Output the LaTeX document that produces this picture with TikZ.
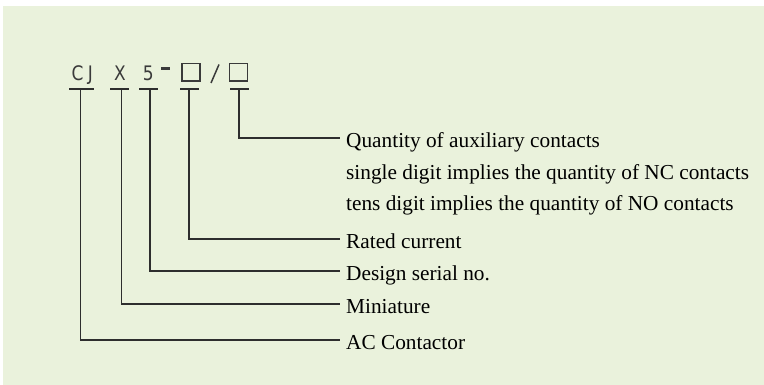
\documentclass[tikz,border=0pt]{standalone}
\usepackage{fontspec}
\setmainfont{Liberation Serif}
\newfontfamily\codefont{DejaVu Sans}
\definecolor{bgc}{HTML}{EAF2DC}
\definecolor{inkc}{HTML}{2E2E2E}
\definecolor{codec}{HTML}{3A3A3A}
\begin{document}
\begin{tikzpicture}[x=1pt,y=-1pt,
  codechar/.style={anchor=base,inner sep=0pt,text=codec,font=\codefont\fontsize{20}{24}\selectfont},
  codebar/.style={draw=inkc,line width=2pt},
  codebox/.style={draw=codec,line width=1.3pt,rectangle,minimum width=18pt,minimum height=17.5pt,inner sep=0pt},
  lbl/.style={anchor=west,inner xsep=6pt,inner ysep=0pt,text height=19pt,text depth=0pt,font=\fontsize{21.3}{25}\selectfont},
  lblb/.style={anchor=base west,inner xsep=6pt,inner ysep=0pt,font=\fontsize{21.3}{25}\selectfont},
  conn/.style={draw=inkc,line width=1.2pt}]
\useasboundingbox (0,0) rectangle (764,385);
\fill[bgc] (3,6) rectangle (764,385);
% code characters
\node[codechar,xscale=0.85] (cC) at (77.5,81) {C};
\node[codechar,xscale=0.85] (cJ) at (90.5,81) {J};
\node[codechar,xscale=0.85] (cX) at (120,81) {X};
\node[codechar,xscale=0.85] (c5) at (148.3,81) {5};
\fill[codec] (161,67.2) rectangle (170,69.8);
\node[codebox] (box1) at (191,72.2) {};
\draw[codec,line width=1.5pt] (211,83) -- (219,64.5);
\node[codebox] (box2) at (238.7,72.2) {};
% under bars
\draw[codebar] (69,89) -- (94,89);
\draw[codebar] (110,89) -- (129,89);
\draw[codebar] (139,89) -- (158,89);
\draw[codebar] (180,89) -- (199,89);
\draw[codebar] (230,89) -- (249,89);
\coordinate (s1) at (80.7,89);
\coordinate (s2) at (121.7,89);
\coordinate (s3) at (150,89);
\coordinate (s4) at (189,89);
\coordinate (s5) at (239,89);
% labels
\node[lbl] (qty) at (340,138) {Quantity of auxiliary contacts};
\node[lblb] (single) at (340,179.5) {single digit implies the quantity of NC contacts};
\node[lblb] (tens) at (340,211) {tens digit implies the quantity of NO contacts};
\node[lbl] (rated) at (340,239) {Rated current};
\node[lbl] (design) at (340,271) {Design serial no.};
\node[lbl] (mini) at (340,304) {Miniature};
\node[lbl] (ac) at (340,340) {AC Contactor};
% connectors
\draw[conn] (s1) |- (ac.west);
\draw[conn] (s2) |- (mini.west);
\draw[conn] (s3) |- (design.west);
\draw[conn] (s4) |- (rated.west);
\draw[conn] (s5) |- (qty.west);
\end{tikzpicture}
\end{document}
